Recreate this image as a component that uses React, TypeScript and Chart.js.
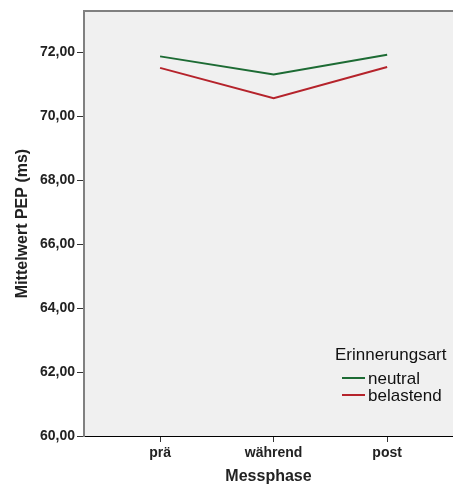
import React, { useEffect, useRef } from "react";
import { Chart, registerables } from "chart.js";

Chart.register(...registerables);

const categories = ["prä", "während", "post"];
const neutral = [71.88, 71.31, 71.93];
const belastend = [71.52, 70.57, 71.55];
const yTicks = [60, 62, 64, 66, 68, 70, 72];
const seriesLabels = ["neutral", "belastend"];
const legendTitle = "Erinnerungsart";
const xTitle = "Messphase";
const yTitle = "Mittelwert PEP (ms)";

const FONT = "'Liberation Sans', Arial, sans-serif";
const GREEN = "#1d6b34";
const RED = "#b5232b";

const bgPlugin = {
  id: "bgPlugin",
  beforeDraw(chart: any) {
    const { ctx, chartArea } = chart;
    ctx.save();
    ctx.fillStyle = "#f0f0f0";
    ctx.fillRect(chartArea.left, chartArea.top, chartArea.right - chartArea.left, chartArea.bottom - chartArea.top);
    ctx.strokeStyle = "#808080";
    ctx.lineWidth = 2;
    ctx.beginPath();
    ctx.moveTo(chartArea.left, chartArea.top);
    ctx.lineTo(chartArea.right, chartArea.top);
    ctx.stroke();
    ctx.restore();
  },
};

const legendPlugin = {
  id: "legendPlugin",
  afterDraw(chart: any) {
    const { ctx, chartArea } = chart;
    const x0 = chartArea.right - 118;
    const y0 = chartArea.bottom - 81;
    ctx.save();
    ctx.fillStyle = "#111";
    ctx.textBaseline = "middle";
    ctx.textAlign = "left";
    ctx.font = `17px ${FONT}`;
    ctx.fillText(legendTitle, x0, y0);
    chart.data.datasets.forEach((ds: any, i: number) => {
      const y = y0 + 24 + i * 17;
      ctx.strokeStyle = ds.borderColor;
      ctx.lineWidth = 2;
      ctx.beginPath();
      ctx.moveTo(x0 + 7, y - 1);
      ctx.lineTo(x0 + 30, y - 1);
      ctx.stroke();
      ctx.fillStyle = "#111";
      ctx.fillText(ds.label, x0 + 33, y);
    });
    ctx.restore();
  },
};

export default function App() {
  const ref = useRef<HTMLCanvasElement>(null);
  useEffect(() => {
    if (!ref.current) return;
    const chart = new Chart(ref.current, {
      type: "line",
      data: {
        datasets: [
          {
            label: seriesLabels[0],
            data: neutral.map((v, i) => ({ x: i, y: v })),
            borderColor: GREEN,
            borderWidth: 2,
            pointRadius: 0,
            tension: 0,
          },
          {
            label: seriesLabels[1],
            data: belastend.map((v, i) => ({ x: i, y: v })),
            borderColor: RED,
            borderWidth: 2,
            pointRadius: 0,
            tension: 0,
          },
        ],
      },
      options: {
        responsive: false,
        animation: false,
        layout: { padding: { top: 11, right: 0, left: 0, bottom: 0 } },
        plugins: { legend: { display: false }, tooltip: { enabled: false } },
        scales: {
          x: {
            type: "linear",
            min: -0.67,
            max: 2.58,
            afterBuildTicks: (scale: any) => {
              scale.ticks = categories.map((_, i) => ({ value: i }));
            },
            afterFit: (scale: any) => {
              scale.height = 50;
            },
            ticks: {
              callback: (v: any) => categories[Math.round(v)] ?? "",
              font: { family: FONT, size: 14, weight: "bold" },
              color: "#222",
              padding: 3,
              maxRotation: 0,
            },
            grid: { drawOnChartArea: false, drawTicks: true, tickLength: 6, color: "#333" },
            border: { color: "#000", width: 1 },
            title: {
              display: true,
              text: xTitle,
              font: { family: FONT, size: 16, weight: "bold" },
              color: "#222",
              padding: { top: 0, bottom: 0 },
            },
          },
          y: {
            min: 60,
            max: 73.3,
            afterBuildTicks: (scale: any) => {
              scale.ticks = yTicks.map((v) => ({ value: v }));
            },
            afterFit: (scale: any) => {
              scale.width = 84;
            },
            ticks: {
              callback: (v: any) => Number(v).toFixed(2).replace(".", ","),
              font: { family: FONT, size: 14, weight: "bold" },
              color: "#222",
              padding: 2,
            },
            grid: { drawOnChartArea: false, drawTicks: true, tickLength: 7, color: "#333" },
            border: { color: "#808080", width: 2 },
            title: {
              display: true,
              text: yTitle,
              font: { family: FONT, size: 16, weight: "bold" },
              color: "#222",
              padding: { top: 13, bottom: 0 },
            },
          },
        },
      },
      plugins: [bgPlugin, legendPlugin],
    } as any);
    return () => chart.destroy();
  }, []);
  return (
    <div style={{ position: "fixed", left: 0, top: 0, width: 453, height: 486, background: "#fff" }}>
      <canvas ref={ref} width={453} height={486} />
    </div>
  );
}
